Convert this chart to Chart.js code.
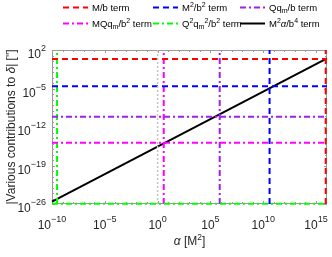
<!DOCTYPE html>
<html><head><meta charset="utf-8">
<script src="https://cdn.jsdelivr.net/npm/chart.js@4/dist/chart.umd.min.js"></script>
<style>html,body{margin:0;padding:0;background:#fff;}#wrap{width:332px;height:257px;}</style>
</head><body><div id="wrap"><canvas id="c" width="332" height="257"></canvas></div>
<script>
// ---- data ----
const termLabels = ['M/b term', 'M²/b² term', 'Qqₘ/b term', 'MQqₘ/b² term', 'Q²qₘ²/b² term', 'M²α/b⁴ term'];
const termLevels = [2.3, 2.5e-5, 7.4e-11, 1.3e-15, 1.1e-26];      // constant contributions ["]
const crossAlpha = [8.3e15, 4.0e10, 7.6e5, 3.8, 3.0e-10];          // α where M²α/b⁴ reaches each term
const alphaRange = [1e-10, 1.1e16];
const valueRange = [1e-26, 1e2];
const blackAlpha = [1e-10, 1.1e16];
const blackValues = [2.8e-26, 3.1];
const refAlpha = [1];
const xTicks = [1e-10, 1e-5, 1, 1e5, 1e10, 1e15];
const yTicks = [1e2, 1e-5, 1e-12, 1e-19, 1e-26];
const xTitle = 'α [M²]';
const yTitle = '|Various contributions to δ| ["]';

// ---- styles ----
const termColors = ['#ff0000', '#0000ff', '#a020f0', '#ff00ff', '#00ff00', '#000000'];
const DASH = [6, 4], DASHDOT = [6, 3, 2, 3];
const termDash = [DASH, DASH, DASHDOT, DASHDOT, DASHDOT, []];
const FONT = "'Liberation Sans', Arial, Helvetica, sans-serif";
const TXT = '#262626';

const supMap = {'-':'⁻','0':'⁰','1':'¹','2':'²','3':'³','4':'⁴','5':'⁵','6':'⁶','7':'⁷','8':'⁸','9':'⁹'};
function pow10Label(v){
  const e = Math.round(Math.log10(v));
  return '10' + String(e).split('').map(c => supMap[c]).join('');
}
// split a unicode label into base / superscript / subscript / italic runs
const SUP = {'⁻':'−','⁰':'0','¹':'1','²':'2','³':'3','⁴':'4','⁵':'5','⁶':'6','⁷':'7','⁸':'8','⁹':'9'};
const SUB = {'ₘ':'m'};
const ITAL = new Set(['α', 'δ']);
function runs(str, italGreek){
  const out = [];
  for (const ch of str) {
    let kind = 'base', t = ch;
    if (SUP[ch] !== undefined) { kind = 'sup'; t = SUP[ch]; }
    else if (SUB[ch] !== undefined) { kind = 'sub'; t = SUB[ch]; }
    else if (italGreek && ITAL.has(ch)) { kind = 'ital'; }
    const last = out[out.length - 1];
    if (last && last.kind === kind) last.t += t; else out.push({kind, t});
  }
  return out;
}
function drawRich(ctx, str, x, y, align, base, script, supDy, subDy, italGreek){
  const parts = runs(str, italGreek);
  const fontOf = k => k === 'base' ? base + 'px ' + FONT : k === 'ital' ? 'italic ' + base + 'px ' + FONT : script + 'px ' + FONT;
  let w = 0;
  parts.forEach(p => { ctx.font = fontOf(p.kind); p.w = ctx.measureText(p.t).width; w += p.w; });
  let cx = align === 'right' ? x - w : align === 'center' ? x - w / 2 : x;
  ctx.textAlign = 'left';
  parts.forEach(p => {
    ctx.font = fontOf(p.kind);
    const dy = p.kind === 'sup' ? supDy : p.kind === 'sub' ? subDy : 0;
    ctx.fillText(p.t, cx, y + dy);
    cx += p.w;
  });
}

const datasets = [];
datasets.push({
  label: 'ref', data: refAlpha.flatMap(a => [{x:a, y:valueRange[0]}, {x:a, y:valueRange[1]}]),
  borderColor: '#c4c4c4', borderWidth: 1.5, borderDash: [2, 2], showLine: true, pointRadius: 0, clip: 3
});
for (let i = 0; i < termLevels.length; i++) {
  datasets.push({
    label: termLabels[i], legendIdx: i,
    data: [{x: alphaRange[0], y: termLevels[i]}, {x: alphaRange[1], y: termLevels[i]}],
    borderColor: termColors[i], borderWidth: 2, borderDash: termDash[i], showLine: true, pointRadius: 0, clip: 3
  });
}
for (let i = 0; i < crossAlpha.length; i++) {
  datasets.push({
    label: termLabels[i] + ' (α)',
    data: [{x: crossAlpha[i], y: valueRange[0]}, {x: crossAlpha[i], y: valueRange[1]}],
    borderColor: termColors[i], borderWidth: 2, borderDash: termDash[i], showLine: true, pointRadius: 0, clip: 3
  });
}
datasets.push({
  label: termLabels[5], legendIdx: 5,
  data: blackAlpha.map((a, k) => ({x: a, y: blackValues[k]})),
  borderColor: termColors[5], borderWidth: 2, borderDash: termDash[5], showLine: true, pointRadius: 0, clip: 3
});

const framePlugin = {
  id: 'frame',
  beforeDatasetsDraw(chart) {
    const {ctx, chartArea: a, scales: {x, y}} = chart;
    ctx.save();
    ctx.strokeStyle = '#9a9a9a'; ctx.lineWidth = 1;
    ctx.strokeRect(a.left + 0.5, a.top + 0.5, a.right - a.left - 1, a.bottom - a.top - 1);
    ctx.beginPath();
    const xMajor = xTicks.map(v => Math.round(Math.log10(v)));
    for (let d = -10; d <= 16; d++) {
      const px = Math.round(x.getPixelForValue(Math.pow(10, d))) + 0.5;
      if (px < a.left || px > a.right) continue;
      const len = xMajor.includes(d) ? 3 : 2;
      ctx.moveTo(px, a.bottom); ctx.lineTo(px, a.bottom - len);
      ctx.moveTo(px, a.top); ctx.lineTo(px, a.top + len);
    }
    const yMajor = yTicks.map(v => Math.round(Math.log10(v)));
    for (let d = -26; d <= 2; d++) {
      const py = Math.round(y.getPixelForValue(Math.pow(10, d))) + 0.5;
      const len = yMajor.includes(d) ? 3 : 2;
      ctx.moveTo(a.left, py); ctx.lineTo(a.left + len, py);
      ctx.moveTo(a.right, py); ctx.lineTo(a.right - len, py);
    }
    ctx.stroke();
    // tick labels with real superscripts
    ctx.fillStyle = TXT;
    ctx.textBaseline = 'alphabetic';
    x.ticks.forEach(t => {
      const px = x.getPixelForValue(t.value);
      drawRich(ctx, pow10Label(t.value), px, 229, 'center', 12, 9, -7, 0);
    });
    y.ticks.forEach(t => {
      const py = y.getPixelForValue(t.value);
      drawRich(ctx, pow10Label(t.value), 46, py + 8, 'right', 12, 9, -7, 0);
    });
    // axis titles (italic Greek letters)
    drawRich(ctx, xTitle, (a.left + a.right) / 2, 245, 'center', 12, 8.5, -5, 0, true);
    ctx.save();
    ctx.translate(14.5, (a.top + a.bottom) / 2);
    ctx.rotate(-Math.PI / 2);
    drawRich(ctx, yTitle, 0, 0, 'center', 12, 8.5, -5, 0, true);
    ctx.restore();
    ctx.restore();
  }
};

const legendPlugin = {
  id: 'gridLegend',
  afterDraw(chart) {
    const ctx = chart.ctx;
    const items = chart.data.datasets.filter(d => d.legendIdx !== undefined)
      .sort((p, q) => p.legendIdx - q.legendIdx);
    const colX = [63, 153, 240], rowY = [7, 23], lineLen = 25;
    ctx.save();
    ctx.fillStyle = '#000';
    ctx.textBaseline = 'alphabetic';
    items.forEach((d, k) => {
      const cx = colX[k % 3], cy = rowY[Math.floor(k / 3)];
      ctx.strokeStyle = d.borderColor; ctx.lineWidth = 2; ctx.setLineDash(d.borderDash);
      ctx.beginPath(); ctx.moveTo(cx, cy + 0.5); ctx.lineTo(cx + lineLen, cy + 0.5); ctx.stroke();
      ctx.setLineDash([]);
      drawRich(ctx, d.label, cx + lineLen + 4, cy + 3.5, 'left', 9.5, 7, -4, 2.5, true);
    });
    ctx.restore();
  }
};

new Chart(document.getElementById('c'), {
  type: 'scatter',
  data: {datasets},
  options: {
    responsive: false, animation: false, devicePixelRatio: 1,
    layout: {padding: {top: 50, right: 5, left: 0, bottom: 0}},
    plugins: {legend: {display: false}, tooltip: {enabled: false}},
    scales: {
      x: {
        type: 'logarithmic', position: 'bottom', min: alphaRange[0], max: alphaRange[1],
        grid: {display: false, drawTicks: false}, border: {display: false},
        afterBuildTicks: s => { s.ticks = xTicks.map(v => ({value: v})); },
        afterFit: s => { s.height = 53; },
        ticks: {display: false, autoSkip: false, maxRotation: 0, callback: v => pow10Label(v)},
        title: {display: false, text: xTitle}
      },
      y: {
        type: 'logarithmic', position: 'left', min: valueRange[0], max: valueRange[1],
        grid: {display: false, drawTicks: false}, border: {display: false},
        afterBuildTicks: s => { s.ticks = yTicks.map(v => ({value: v})); },
        afterFit: s => { s.width = 52; },
        ticks: {display: false, autoSkip: false, callback: v => pow10Label(v)},
        title: {display: false, text: yTitle}
      }
    }
  },
  plugins: [framePlugin, legendPlugin]
});
</script>
</body></html>
